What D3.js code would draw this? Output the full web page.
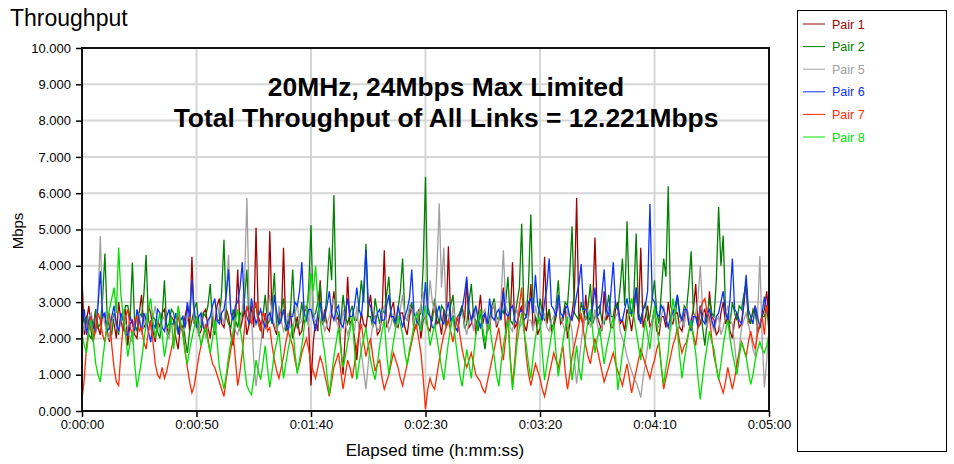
<!DOCTYPE html>
<html>
<head>
<meta charset="utf-8">
<script src="https://cdn.jsdelivr.net/npm/d3@7"></script>
<style>
  body { margin: 0; background: #fff; }
  text { font-family: "Liberation Sans", Arial, sans-serif; }
</style>
</head>
<body>
<svg id="chart" width="954" height="464"></svg>
<script>
// one sample per second, 0:00:00 .. 0:05:00
const step = 1;

const seriesNames = ["Pair 1", "Pair 2", "Pair 5", "Pair 6", "Pair 7", "Pair 8"];
const seriesColors = ["#a00000", "#008000", "#a0a0a0", "#0a32ff", "#ff2a00", "#00e000"];

const pair1 = [
  3.7, 2.1, 2.5, 2.9, 2.2, 1.9, 2.8, 2.3, 2.1, 2.7, 2.6, 2.2, 1.9, 2.6, 2.4, 2.0, 3.0, 2.5, 2.2, 2.8,
  1.8, 2.4, 2.5, 2.1, 2.0, 2.7, 3.2, 2.3, 2.4, 2.9, 2.7, 2.2, 1.9, 2.5, 2.3, 2.7, 2.8, 2.3, 2.1, 2.6,
  2.5, 2.0, 1.7, 2.4, 2.3, 2.6, 2.9, 2.2, 4.25, 2.4, 2.6, 2.1, 2.2, 2.7, 2.8, 2.3, 2.0, 2.6, 2.4, 2.9,
  3.1, 2.4, 2.3, 2.8, 2.6, 2.1, 1.8, 2.5, 3.9, 2.2, 2.5, 2.8, 2.1, 2.4, 2.9, 2.3, 5.05, 2.6, 2.4, 2.0,
  2.7, 2.3, 4.95, 2.5, 2.3, 2.1, 2.8, 2.4, 4.5, 2.2, 2.4, 2.8, 2.0, 2.3, 2.6, 2.1, 2.2, 2.7, 2.9, 2.3,
  0.7, 1.9, 2.5, 2.2, 3.6, 2.4, 2.8, 2.3, 2.2, 2.7, 3.3, 2.5, 2.6, 1.8, 1.0, 2.2, 3.7, 2.4, 2.5, 2.0,
  1.4, 2.2, 2.7, 2.4, 2.3, 2.8, 3.2, 2.5, 2.6, 2.1, 2.2, 2.6, 4.43, 2.3, 2.5, 2.8, 3.0, 2.4, 2.3, 2.7,
  2.7, 2.3, 2.1, 2.6, 2.9, 2.2, 2.4, 2.8, 2.0, 2.5, 2.6, 2.3, 2.2, 2.7, 3.0, 2.4, 2.5, 2.1, 2.8, 2.4,
  4.54, 2.5, 2.6, 2.3, 2.2, 2.7, 2.9, 2.4, 3.6, 2.3, 2.4, 2.8, 2.1, 2.6, 3.2, 2.4, 2.7, 2.2, 2.3, 2.8,
  2.9, 2.3, 2.5, 2.8, 3.4, 2.2, 2.6, 2.5, 4.1, 2.3, 2.4, 2.7, 2.9, 2.4, 2.2, 2.6, 3.5, 2.3, 2.6, 2.1,
  2.3, 2.7, 4.25, 2.4, 2.8, 2.2, 2.3, 2.6, 3.1, 2.4, 2.5, 2.9, 2.0, 2.4, 2.7, 3.2, 5.87, 2.5, 2.6, 2.3,
  3.2, 2.4, 2.5, 2.9, 4.78, 2.6, 2.4, 2.2, 3.3, 2.5, 2.7, 2.3, 2.3, 2.8, 3.0, 2.4, 2.5, 2.2, 2.8, 2.6,
  2.2, 2.7, 3.4, 2.5, 4.5, 2.3, 2.6, 2.9, 2.3, 2.5, 2.8, 2.2, 2.1, 2.6, 2.6, 2.3, 3.0, 2.5, 2.4, 2.7,
  2.7, 2.3, 2.2, 2.6, 2.9, 2.4, 2.5, 2.8, 3.5, 2.3, 2.4, 2.7, 2.8, 2.3, 3.3, 2.6, 2.5, 2.1, 2.2, 2.7,
  3.0, 2.4, 2.6, 2.2, 2.0, 2.5, 2.7, 2.3, 2.4, 2.9, 3.6, 2.4, 2.5, 2.7, 2.9, 2.2, 2.3, 2.6, 2.8, 3.3,
  2.5
];
const pair2 = [
  2.2, 2.5, 2.6, 2.1, 2.0, 2.4, 2.8, 2.3, 2.4, 3.1, 4.34, 2.6, 2.3, 2.1, 2.7, 2.4, 2.1, 2.6, 2.5, 2.9,
  2.9, 2.5, 4.09, 2.4, 2.2, 2.7, 2.6, 3.2, 4.3, 2.5, 2.3, 2.6, 2.5, 2.2, 2.0, 2.6, 3.6, 2.3, 2.4, 2.8,
  2.7, 2.3, 2.2, 2.5, 2.6, 2.0, 1.6, 2.2, 2.5, 2.8, 3.0, 2.4, 2.3, 2.7, 2.6, 2.9, 3.5, 2.4, 2.1, 2.5,
  2.5, 3.3, 4.72, 2.6, 2.4, 2.3, 2.8, 2.5, 2.3, 2.7, 2.6, 3.1, 3.9, 2.4, 2.5, 2.8, 2.9, 2.4, 2.2, 2.6,
  3.2, 2.4, 2.5, 2.9, 3.8, 2.3, 2.4, 2.8, 3.1, 2.2, 2.5, 2.7, 3.9, 2.6, 2.3, 2.5, 3.0, 2.4, 2.6, 3.4,
  5.12, 2.6, 2.7, 3.0, 3.5, 2.4, 2.5, 3.3, 4.5, 3.6, 5.95, 2.8, 2.6, 2.4, 3.2, 2.6, 2.4, 2.7, 2.9, 2.5,
  2.5, 2.9, 3.6, 3.0, 4.61, 2.6, 2.6, 2.3, 3.1, 2.7, 2.4, 2.8, 2.7, 3.2, 3.7, 2.6, 2.5, 2.3, 2.8, 3.3,
  4.2, 2.6, 2.5, 2.8, 3.0, 2.4, 2.3, 2.6, 2.7, 4.0, 6.45, 2.9, 2.6, 2.5, 3.1, 2.7, 2.4, 2.9, 2.8, 2.3,
  2.5, 2.9, 3.2, 2.4, 2.6, 2.7, 2.9, 2.3, 2.4, 3.0, 3.5, 2.6, 2.5, 2.2, 2.8, 2.1, 1.7, 2.3, 2.6, 2.9,
  3.1, 2.6, 2.5, 2.8, 2.7, 3.0, 3.7, 2.5, 2.4, 2.6, 3.0, 3.4, 5.16, 2.7, 2.6, 3.5, 5.41, 2.8, 2.6, 2.4,
  3.1, 2.7, 2.5, 2.6, 2.8, 2.3, 2.4, 2.9, 3.6, 2.5, 2.6, 3.0, 2.9, 3.8, 5.09, 2.7, 2.6, 2.5, 3.0, 2.7,
  2.5, 2.9, 3.5, 2.4, 2.6, 2.8, 2.9, 2.5, 2.4, 2.7, 3.2, 2.6, 2.6, 3.0, 2.8, 3.4, 4.2, 2.9, 5.23, 3.1,
  2.6, 3.2, 4.89, 2.7, 2.5, 2.8, 3.0, 2.5, 2.6, 3.1, 3.6, 2.7, 2.4, 3.3, 4.2, 3.7, 6.19, 2.9, 2.7, 2.5,
  3.2, 2.6, 2.5, 2.9, 2.8, 3.5, 4.4, 2.7, 2.6, 2.4, 2.9, 2.3, 1.8, 2.5, 3.1, 2.7, 2.6, 3.6, 5.62, 4.0,
  4.83, 2.8, 2.6, 2.4, 3.0, 2.7, 2.5, 2.9, 2.8, 3.2, 3.5, 2.6, 2.4, 2.8, 2.7, 2.3, 2.3, 2.6, 2.6, 2.9,
  2.2
];
const pair5 = [
  2.5, 2.3, 2.1, 2.6, 2.7, 2.2, 2.3, 3.1, 4.82, 2.7, 2.4, 2.1, 2.0, 2.5, 2.6, 2.3, 2.2, 2.5, 2.8, 2.4,
  2.3, 2.0, 1.9, 2.3, 2.5, 2.7, 2.1, 2.4, 2.7, 2.2, 2.3, 2.6, 2.9, 2.4, 2.2, 2.5, 2.6, 2.1, 2.0, 2.4,
  2.4, 2.2, 2.8, 2.4, 2.1, 2.3, 2.5, 2.9, 3.4, 2.6, 2.3, 2.1, 2.7, 2.4, 2.0, 2.3, 2.6, 2.8, 2.2, 2.5,
  2.9, 2.6, 2.4, 3.2, 4.3, 2.7, 2.5, 2.2, 2.1, 2.4, 2.8, 3.6, 5.87, 2.9, 2.6, 1.4, 0.68, 1.2, 1.8, 2.3,
  2.5, 2.7, 3.2, 2.6, 2.4, 2.2, 2.9, 2.5, 2.2, 2.4, 2.7, 2.3, 2.3, 2.6, 3.0, 2.4, 2.5, 2.9, 2.8, 2.3,
  4.0, 2.8, 2.4, 2.6, 2.9, 2.5, 2.2, 2.4, 2.6, 2.9, 3.1, 2.5, 2.3, 2.2, 2.8, 2.4, 2.1, 2.3, 2.5, 2.2,
  2.9, 2.2, 1.6, 1.1, 0.6, 1.3, 1.9, 2.4, 2.6, 2.2, 2.3, 2.7, 2.9, 2.5, 2.2, 2.4, 2.7, 2.3, 2.4, 2.8,
  3.2, 2.6, 2.5, 2.9, 2.8, 2.4, 2.3, 2.7, 2.9, 3.3, 2.4, 2.8, 3.6, 3.0, 2.7, 3.9, 5.72, 3.4, 4.5, 2.7,
  2.6, 2.3, 2.9, 2.5, 2.3, 2.6, 2.7, 2.4, 2.1, 2.5, 2.6, 2.2, 2.9, 2.6, 2.3, 2.7, 2.8, 2.2, 2.4, 2.7,
  3.0, 2.4, 2.5, 3.1, 4.43, 2.9, 2.7, 2.3, 2.2, 2.6, 2.8, 2.3, 2.4, 2.7, 3.0, 2.5, 2.5, 2.2, 2.9, 2.6,
  2.3, 2.5, 2.7, 2.3, 2.2, 2.5, 2.6, 2.8, 3.1, 2.6, 2.4, 2.2, 2.8, 2.5, 2.2, 1.4, 0.75, 1.3, 1.9, 2.4,
  2.6, 2.8, 2.3, 2.5, 2.8, 2.4, 2.1, 2.3, 2.5, 2.7, 2.9, 2.4, 2.3, 2.6, 2.7, 2.2, 2.0, 1.8, 1.5, 1.3,
  1.1, 0.9, 0.8, 0.6, 0.37, 0.9, 1.3, 1.8, 2.2, 2.5, 2.7, 2.4, 2.3, 2.6, 2.9, 2.5, 2.4, 2.2, 2.8, 2.5,
  2.2, 2.4, 2.6, 2.3, 2.9, 2.6, 2.3, 2.5, 2.7, 3.1, 4.0, 2.8, 2.5, 2.3, 2.8, 2.4, 2.2, 2.5, 2.6, 2.1,
  2.3, 2.6, 2.9, 2.5, 2.4, 1.8, 1.2, 1.7, 2.3, 2.5, 2.7, 2.4, 2.1, 1.7, 1.5, 2.6, 4.27, 2.0, 0.65, 1.4,
  2.3
];
const pair6 = [
  2.4, 2.8, 2.1, 2.5, 2.6, 2.3, 2.2, 2.9, 3.85, 2.6, 2.7, 2.2, 2.3, 2.6, 2.9, 2.4, 2.2, 2.7, 2.5, 2.1,
  2.1, 2.6, 2.4, 2.2, 2.8, 2.5, 2.2, 2.7, 2.5, 2.2, 1.9, 2.4, 2.3, 2.8, 2.7, 2.3, 2.2, 2.6, 2.8, 2.4,
  2.4, 2.7, 2.1, 2.5, 2.6, 2.3, 3.0, 2.6, 3.6, 2.8, 2.3, 2.6, 2.7, 2.3, 2.2, 2.5, 2.6, 2.9, 3.1, 2.5,
  2.4, 2.7, 2.8, 3.2, 3.9, 2.7, 2.5, 2.9, 3.0, 3.4, 4.1, 2.8, 2.6, 2.4, 3.1, 2.7, 2.4, 2.6, 2.8, 2.5,
  2.3, 2.6, 2.7, 2.4, 3.2, 2.7, 2.4, 2.5, 2.8, 2.4, 2.2, 2.6, 2.6, 3.0, 2.9, 3.3, 4.1, 2.7, 2.5, 2.8,
  2.8, 2.5, 2.2, 2.7, 3.0, 2.5, 2.6, 2.9, 3.3, 2.7, 2.5, 2.8, 2.9, 2.4, 2.3, 2.7, 3.1, 2.6, 2.6, 2.9,
  3.4, 2.8, 2.6, 3.3, 4.45, 3.0, 2.9, 2.5, 2.4, 2.7, 2.8, 2.5, 2.5, 2.9, 3.2, 2.6, 2.6, 2.4, 2.9, 2.6,
  2.3, 2.6, 2.8, 3.1, 3.9, 2.7, 2.5, 2.4, 2.2, 2.8, 3.55, 2.7, 2.6, 2.3, 2.3, 2.7, 2.9, 2.5, 2.4, 2.7,
  3.0, 2.5, 2.6, 2.3, 2.2, 2.6, 2.8, 3.2, 3.7, 2.8, 2.5, 2.7, 2.9, 2.5, 2.3, 2.6, 2.7, 2.4, 3.1, 2.6,
  2.5, 2.7, 2.8, 2.5, 3.3, 2.7, 2.6, 2.8, 2.9, 2.5, 2.4, 2.7, 2.8, 2.5, 2.6, 3.0, 3.1, 2.7, 3.75, 2.9,
  2.7, 2.5, 3.0, 3.4, 4.2, 2.9, 2.8, 2.6, 3.2, 2.7, 2.6, 2.8, 2.9, 2.6, 2.5, 2.8, 3.2, 3.5, 4.05, 2.8,
  2.8, 2.6, 2.5, 2.9, 3.4, 2.6, 2.7, 3.2, 3.9, 2.8, 2.6, 3.3, 4.1, 2.9, 2.8, 2.5, 2.5, 2.8, 3.1, 2.7,
  2.7, 2.9, 3.4, 2.6, 2.4, 2.8, 2.9, 3.3, 5.7, 3.1, 3.0, 2.7, 2.6, 2.9, 2.8, 2.5, 2.3, 2.6, 2.7, 2.9,
  3.2, 2.7, 2.5, 2.8, 2.8, 2.4, 2.2, 2.6, 2.6, 2.3, 2.9, 2.5, 2.4, 2.7, 2.8, 2.5, 2.3, 2.6, 2.7, 3.0,
  3.3, 2.7, 2.5, 3.1, 4.2, 2.8, 2.7, 2.5, 2.4, 3.0, 3.75, 2.8, 2.6, 2.4, 2.9, 2.6, 2.3, 2.7, 3.15, 2.8,
  2.6
];
const pair7 = [
  0.3, 0.9, 1.8, 2.3, 2.6, 2.0, 2.2, 2.7, 2.5, 2.1, 1.9, 2.4, 2.7, 1.8, 1.2, 0.8, 0.7, 1.6, 2.4, 2.6,
  2.8, 2.3, 2.1, 2.5, 2.6, 2.2, 2.3, 1.9, 1.7, 2.2, 2.5, 1.9, 1.3, 1.0, 0.9, 1.2, 0.9, 1.1, 1.4, 1.7,
  2.0, 2.4, 2.6, 2.3, 2.2, 1.7, 1.2, 0.8, 0.5, 0.7, 1.1, 1.5, 1.8, 2.1, 2.4, 2.0, 1.6, 1.3, 1.2, 1.0,
  0.8, 0.6, 0.4, 0.9, 1.3, 1.7, 2.1, 1.4, 0.7, 1.1, 1.6, 2.3, 2.9, 2.6, 2.4, 2.8, 3.0, 2.5, 2.2, 2.7,
  2.6, 2.2, 2.3, 1.8, 1.4, 1.1, 0.9, 1.2, 1.5, 1.9, 2.2, 2.0, 1.8, 1.4, 1.1, 1.3, 1.6, 1.8, 2.0, 1.7,
  1.3, 1.1, 0.9, 1.2, 1.5, 1.3, 1.0, 0.7, 0.4, 0.8, 1.2, 1.4, 1.6, 1.1, 0.6, 1.0, 1.4, 1.2, 0.9, 1.3,
  1.8, 2.1, 2.4, 1.9, 1.5, 1.8, 2.0, 1.5, 1.1, 1.3, 1.4, 0.9, 0.6, 0.8, 1.0, 1.3, 1.6, 1.4, 1.2, 0.9,
  0.7, 1.0, 1.3, 1.6, 1.9, 2.2, 2.4, 2.0, 1.6, 0.9, 0.05, 0.6, 0.9, 0.7, 0.6, 1.0, 1.4, 1.8, 2.1, 2.3,
  2.5, 2.2, 1.9, 2.3, 2.6, 2.1, 1.7, 1.4, 1.2, 1.4, 1.6, 1.3, 1.0, 0.9, 0.8, 0.6, 0.5, 0.8, 1.1, 1.4,
  1.7, 2.0, 2.3, 1.8, 1.4, 2.0, 2.6, 1.5, 0.7, 1.4, 2.2, 2.9, 3.4, 2.3, 1.5, 1.0, 0.7, 1.0, 1.3, 1.1,
  0.9, 0.6, 0.4, 0.7, 1.0, 1.3, 1.6, 1.4, 1.2, 1.5, 1.8, 1.1, 0.6, 1.0, 1.5, 1.8, 2.1, 2.4, 2.7, 2.2,
  1.8, 1.5, 1.3, 1.7, 2.0, 1.7, 1.4, 1.1, 0.8, 1.0, 1.2, 1.4, 1.6, 1.3, 1.1, 0.9, 0.7, 1.0, 1.3, 0.9,
  0.5, 0.8, 1.1, 1.4, 1.7, 1.5, 1.3, 1.1, 0.9, 1.2, 1.4, 1.7, 1.9, 1.2, 0.6, 0.9, 1.2, 1.5, 1.8, 2.0,
  2.3, 1.9, 1.6, 1.8, 1.9, 2.2, 2.4, 2.1, 1.8, 2.3, 2.8, 3.0, 3.1, 2.7, 2.6, 2.0, 1.5, 1.2, 0.9, 0.7,
  0.5, 0.8, 1.2, 0.9, 0.6, 0.9, 1.3, 1.6, 1.9, 1.7, 1.5, 1.9, 2.2, 1.9, 1.7, 2.1, 2.4, 2.6, 2.1, 2.9,
  2.6
];
const pair8 = [
  2.1, 1.8, 1.6, 2.2, 2.5, 1.9, 1.3, 1.0, 0.8, 1.4, 1.9, 2.4, 2.8, 3.1, 3.4, 2.7, 4.5, 3.2, 2.6, 2.1,
  1.5, 1.9, 2.2, 1.3, 0.65, 1.0, 1.4, 1.9, 2.4, 2.8, 3.1, 2.5, 2.0, 2.4, 2.7, 2.1, 1.5, 1.9, 2.3, 2.6,
  1.7, 2.3, 2.9, 2.5, 2.1, 1.6, 1.3, 1.7, 2.0, 2.3, 2.6, 2.2, 1.8, 2.1, 2.3, 1.9, 1.6, 2.0, 2.5, 1.9,
  1.2, 0.9, 0.6, 1.0, 1.5, 1.9, 2.2, 2.5, 2.8, 2.3, 1.9, 1.2, 0.7, 0.55, 0.45, 0.9, 1.4, 1.1, 0.86, 1.3,
  1.8, 1.2, 0.65, 1.1, 1.6, 1.9, 2.2, 1.5, 0.9, 1.3, 1.7, 2.0, 2.4, 1.6, 1.03, 1.4, 1.8, 2.3, 2.7, 3.2,
  3.8, 3.3, 4.0, 3.0, 2.5, 2.0, 1.6, 1.0, 0.45, 1.0, 1.5, 1.9, 2.3, 1.7, 1.2, 1.5, 1.9, 2.2, 2.6, 1.7,
  0.86, 1.3, 1.7, 2.0, 2.3, 1.8, 1.4, 1.1, 0.86, 1.3, 1.8, 2.2, 2.5, 1.6, 1.0, 1.5, 1.9, 2.3, 2.6, 2.4,
  2.1, 1.6, 1.26, 1.7, 2.0, 2.4, 2.7, 2.5, 2.2, 2.6, 2.9, 2.3, 1.8, 2.1, 2.4, 2.0, 1.6, 1.2, 0.85, 1.4,
  1.9, 2.3, 2.6, 2.0, 1.5, 1.0, 0.68, 1.2, 1.7, 1.3, 0.9, 1.5, 2.1, 2.5, 2.8, 2.3, 1.9, 2.2, 2.4, 1.9,
  1.5, 1.0, 0.68, 1.3, 1.8, 2.2, 2.5, 1.4, 0.58, 1.2, 1.9, 2.3, 2.7, 2.2, 1.8, 1.3, 0.9, 1.5, 2.0, 2.4,
  2.6, 1.6, 0.85, 1.3, 1.7, 2.1, 2.4, 1.6, 0.95, 1.4, 1.9, 2.3, 2.6, 1.7, 0.85, 1.3, 1.8, 1.2, 0.85, 1.5,
  2.1, 2.5, 2.8, 2.2, 1.6, 2.0, 2.3, 1.8, 1.3, 1.7, 2.0, 2.3, 2.6, 1.5, 0.58, 1.1, 1.6, 2.0, 2.4, 2.8,
  3.1, 2.6, 2.2, 1.8, 1.4, 2.0, 2.5, 2.1, 1.7, 2.3, 2.9, 2.4, 1.8, 1.2, 0.73, 1.2, 1.6, 2.4, 3.1, 2.7,
  2.2, 1.5, 0.9, 1.4, 1.8, 2.2, 2.5, 2.0, 1.6, 0.9, 0.32, 0.9, 1.4, 1.8, 2.2, 1.9, 1.7, 1.2, 0.85, 1.3,
  1.8, 2.2, 2.5, 2.0, 1.6, 1.3, 1.0, 1.5, 1.9, 1.7, 1.5, 1.1, 0.73, 1.0, 1.4, 1.7, 1.9, 1.7, 1.6, 1.8,
  2.1
];
const seriesValues = [pair1, pair2, pair5, pair6, pair7, pair8];

const yTicks = [0, 1, 2, 3, 4, 5, 6, 7, 8, 9, 10];
const xTicks = [0, 50, 100, 150, 200, 250, 300];
const noteLines = ["20MHz, 24Mbps Max Limited", "Total Throughput of All Links = 12.221Mbps"];

const svg = d3.select("#chart");
const margin = {top: 48, right: 185, bottom: 53, left: 82};
const width = 954 - margin.left - margin.right;
const height = 464 - margin.top - margin.bottom;

const x = d3.scaleLinear().domain([0, 300]).range([0, width]);
const y = d3.scaleLinear().domain([0, 10]).range([height, 0]);

function hms(s) {
  const h = Math.floor(s / 3600), m = Math.floor(s / 60) % 60, sec = s % 60;
  return h + ":" + String(m).padStart(2, "0") + ":" + String(sec).padStart(2, "0");
}

svg.append("text")
  .attr("x", 10).attr("y", 26)
  .attr("font-size", 23)
  .text("Throughput");

const g = svg.append("g").attr("transform", "translate(" + margin.left + "," + margin.top + ")");

// grid
g.append("g").selectAll("line").data(yTicks.slice(1, -1)).enter().append("line")
  .attr("x1", 0).attr("x2", width)
  .attr("y1", d => y(d)).attr("y2", d => y(d))
  .attr("stroke", "#d6d6d6").attr("stroke-width", 2);
g.append("g").selectAll("line").data(xTicks.slice(1, -1)).enter().append("line")
  .attr("y1", 0).attr("y2", height)
  .attr("x1", d => x(d)).attr("x2", d => x(d))
  .attr("stroke", "#d6d6d6").attr("stroke-width", 2);

// series
const line = d3.line()
  .x((d, i) => x(i * step))
  .y(d => y(d));

g.append("g").selectAll("path").data(seriesValues).enter().append("path")
  .attr("d", line)
  .attr("fill", "none")
  .attr("stroke", (d, i) => seriesColors[i])
  .attr("stroke-width", 1.3)
  .attr("stroke-linejoin", "miter");

// axes
const yAxis = g.append("g").call(d3.axisLeft(y).tickValues(yTicks).tickFormat(d3.format(".3f")).tickSize(6).tickPadding(5));
const xAxis = g.append("g").attr("transform", "translate(0," + height + ")")
  .call(d3.axisBottom(x).tickValues(xTicks).tickFormat(hms).tickSize(6).tickPadding(3));
[yAxis, xAxis].forEach(a => {
  a.select(".domain").remove();
  a.selectAll("line").attr("stroke", "#000").attr("stroke-width", 1.5);
  a.selectAll("text").attr("font-family", "Liberation Sans, Arial, sans-serif").attr("font-size", 13).attr("fill", "#000");
});

g.append("rect")
  .attr("x", 0).attr("y", 0).attr("width", width).attr("height", height)
  .attr("fill", "none").attr("stroke", "#111").attr("stroke-width", 2);

// annotation
g.append("g").selectAll("text").data(noteLines).enter().append("text")
  .attr("x", 364).attr("y", (d, i) => 48 + i * 31)
  .attr("text-anchor", "middle")
  .attr("font-size", 26.4).attr("font-weight", "bold")
  .text(d => d);

// axis titles
svg.append("text")
  .attr("transform", "translate(23,231) rotate(-90)")
  .attr("text-anchor", "middle")
  .attr("font-size", 15)
  .text("Mbps");
svg.append("text")
  .attr("x", 435).attr("y", 456)
  .attr("text-anchor", "middle")
  .attr("font-size", 17)
  .text("Elapsed time (h:mm:ss)");

// legend
const legend = svg.append("g");
legend.append("rect")
  .attr("x", 797.5).attr("y", 10.5).attr("width", 149).attr("height", 441)
  .attr("fill", "#fff").attr("stroke", "#000").attr("stroke-width", 1);
const items = legend.selectAll("g.item").data(seriesNames).enter().append("g")
  .attr("class", "item")
  .attr("transform", (d, i) => "translate(0," + (24 + i * 22.6) + ")");
items.append("line")
  .attr("x1", 803).attr("x2", 825).attr("y1", 0).attr("y2", 0)
  .attr("stroke", (d, i) => seriesColors[i]).attr("stroke-width", 1);
items.append("text")
  .attr("x", 832).attr("y", 4.5)
  .attr("font-size", 12.5)
  .attr("fill", (d, i) => seriesColors[i])
  .text(d => d);
</script>
</body>
</html>
